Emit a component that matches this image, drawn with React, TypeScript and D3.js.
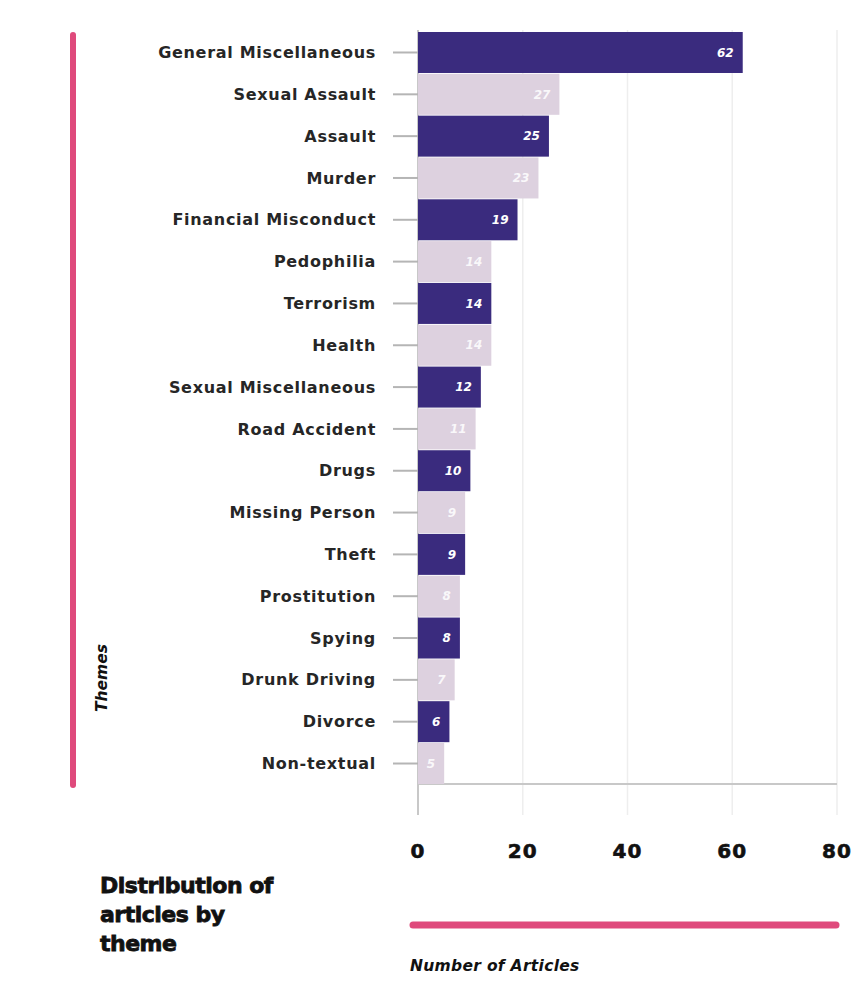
import React from "react";
import * as d3 from "d3";

const themes = [
  "General Miscellaneous", "Sexual Assault", "Assault", "Murder", "Financial Misconduct",
  "Pedophilia", "Terrorism", "Health", "Sexual Miscellaneous", "Road Accident", "Drugs",
  "Missing Person", "Theft", "Prostitution", "Spying", "Drunk Driving", "Divorce", "Non-textual",
];
const counts = [62, 27, 25, 23, 19, 14, 14, 14, 12, 11, 10, 9, 9, 8, 8, 7, 6, 5];
const xTicks = [0, 20, 40, 60, 80];
const titleLines = ["Distribution of", "articles by", "theme"];

const DARK = "#3a2b7e";
const LIGHT = "#ddd1df";
const PINK = "#df4a7c";
const LABEL_FONT = "'DejaVu Sans', sans-serif";
const HEAVY_FONT = "'DejaVu Sans', sans-serif";

export default function App() {
  const W = 851, H = 991;
  const x = d3.scaleLinear().domain([0, 80]).range([418, 837]);
  const y = d3.scaleBand<string>().domain(themes).range([32, 784]).paddingInner(0.02).paddingOuter(0);
  const axisY = 784;
  return (
    <svg width={W} height={H} style={{ position: "absolute", left: 0, top: 0, background: "#fff" }}>
      {/* gridlines */}
      {xTicks.map((t) => (
        <line key={"g" + t} x1={x(t)} x2={x(t)} y1={30} y2={815}
          stroke={t === 0 ? "#c8c8c8" : "#eeeeee"} strokeWidth={t === 0 ? 2 : 1.5} />
      ))}
      <line x1={x(0)} x2={x(80)} y1={axisY} y2={axisY} stroke="#c8c8c8" strokeWidth={2} />
      {/* bars */}
      {themes.map((t, i) => (
        <g key={t}>
          <rect x={x(0)} y={y(t)} width={x(counts[i]) - x(0)} height={y.bandwidth()}
            fill={i % 2 === 0 ? DARK : LIGHT} />
          <text x={x(counts[i]) - 9} y={(y(t) as number) + y.bandwidth() / 2} dy="0.35em"
            textAnchor="end" fill="#fff" fontFamily={HEAVY_FONT} fontWeight={700} fontStyle="italic"
            fontSize={12} opacity={i % 2 === 0 ? 1 : 0.85}>{counts[i]}</text>
          <line x1={393} x2={418} y1={(y(t) as number) + y.bandwidth() / 2} y2={(y(t) as number) + y.bandwidth() / 2}
            stroke="#b5b5b5" strokeWidth={2} />
          <text x={376} y={(y(t) as number) + y.bandwidth() / 2} dy="0.35em" textAnchor="end"
            fill="#262626" fontFamily={LABEL_FONT} fontSize={16} fontWeight={700} letterSpacing={0.7}>{t}</text>
        </g>
      ))}
      {/* x tick labels */}
      {xTicks.map((t) => (
        <text key={"t" + t} x={x(t)} y={851} dy="0.35em" textAnchor="middle" fill="#111"
          fontFamily={HEAVY_FONT} fontWeight={700} fontSize={20} letterSpacing={1}
          stroke="#111" strokeWidth={0.6}>{t}</text>
      ))}
      {/* left pink bar + Themes */}
      <line x1={73} x2={73} y1={35} y2={785} stroke={PINK} strokeWidth={6} strokeLinecap="round" />
      <text transform="translate(107,678) rotate(-90)" textAnchor="middle" fill="#111"
        fontFamily={LABEL_FONT} fontWeight={700} fontStyle="italic" fontSize={15.5}>Themes</text>
      {/* bottom pink bar + axis title */}
      <line x1={413} x2={836} y1={925} y2={925} stroke={PINK} strokeWidth={7} strokeLinecap="round" />
      <text x={410} y={966} dy="0.35em" fill="#111" fontFamily={LABEL_FONT} fontWeight={700}
        fontStyle="italic" fontSize={15.5} letterSpacing={0.3}>Number of Articles</text>
      {/* title */}
      {titleLines.map((l, i) => (
        <text key={l} x={100} y={893 + i * 29} fill="#111" fontFamily={HEAVY_FONT} fontWeight={900}
          fontSize={22} letterSpacing={-0.5} stroke="#111" strokeWidth={0.8}>{l}</text>
      ))}
    </svg>
  );
}
